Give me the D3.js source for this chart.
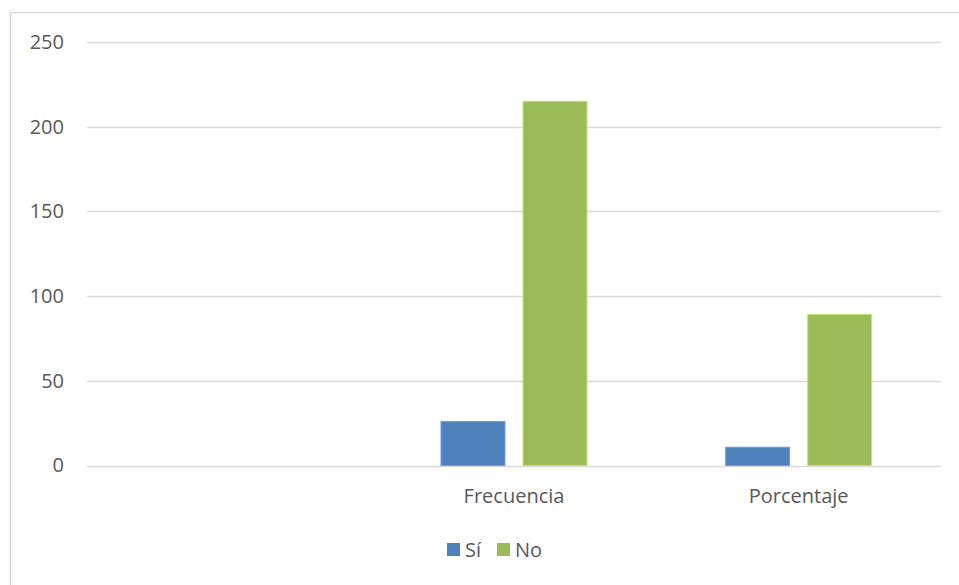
<!DOCTYPE html>
<html>
<head>
<meta charset="utf-8">
<script src="https://cdn.jsdelivr.net/npm/d3@7"></script>
<style>
  html, body { margin: 0; padding: 0; background: #fff; }
  svg { display: block; font-family: "Open Sans", "Noto Sans", sans-serif; }
</style>
</head>
<body>
<svg id="chart" width="959" height="585"></svg>
<script>
// Categories on the x axis (the first slot is left blank)
const categories = ["", "Frecuencia", "Porcentaje"];
const seriesNames = ["Sí", "No"];
const siValues = [null, 26, 10.8];
const noValues = [null, 215, 89.2];
const yTicks = [0, 50, 100, 150, 200, 250];
const colors = ["#4F81BD", "#9BBB59"];

const svg = d3.select("#chart");
const W = 959, H = 585;
const FONT = "20px";

// outer chart frame
svg.append("rect")
  .attr("x", 10.5).attr("y", 12.5)
  .attr("width", W).attr("height", H)
  .attr("fill", "#fff").attr("stroke", "#d9d9d9").attr("stroke-width", 1.5);

const plot = { left: 87, right: 941, top: 42, bottom: 465.5 };

const x = d3.scaleBand()
  .domain(categories.map((c, i) => i))
  .range([plot.left, plot.right])
  .paddingInner(0).paddingOuter(0);

const y = d3.scaleLinear().domain([0, 250]).range([plot.bottom, plot.top]);

// horizontal gridlines
svg.append("g").selectAll("line")
  .data(yTicks)
  .join("line")
  .attr("x1", plot.left).attr("x2", plot.right)
  .attr("y1", d => Math.round(y(d)) + 0.5).attr("y2", d => Math.round(y(d)) + 0.5)
  .attr("stroke", "#d9d9d9").attr("stroke-width", 1.5);

// y axis labels
const yAxis = d3.axisLeft(y).tickValues(yTicks).tickSize(0).tickPadding(0);
const ya = svg.append("g").attr("transform", `translate(${64},0)`).call(yAxis);
ya.select(".domain").remove();
ya.selectAll("text")
  .attr("fill", "#595959")
  .style("font-size", FONT)
  .style("font-family", "'Open Sans', sans-serif");

// grouped bars
const inner = d3.scaleBand()
  .domain(seriesNames)
  .range([0, x.bandwidth()])
  .paddingInner(0.22).paddingOuter(0.845);

const seriesData = [siValues, noValues];
seriesNames.forEach((name, si) => {
  svg.append("g").selectAll("rect")
    .data(seriesData[si].map((v, i) => ({ i, v })).filter(d => d.v != null))
    .join("rect")
    .attr("x", d => x(d.i) + inner(name))
    .attr("width", inner.bandwidth())
    .attr("y", d => y(d.v))
    .attr("height", d => y(0) - y(d.v))
    .attr("fill", colors[si])
    .attr("stroke", d3.color(colors[si]).brighter(0.6))
    .attr("stroke-width", 1);
});

// category labels
svg.append("g").selectAll("text")
  .data(categories.map((c, i) => ({ c, i })))
  .join("text")
  .attr("x", d => x(d.i) + x.bandwidth() / 2)
  .attr("y", 503)
  .attr("text-anchor", "middle")
  .attr("fill", "#595959")
  .style("font-size", FONT)
  .text(d => d.c);

// legend
const legend = svg.append("g");
const legendItems = [
  { name: "Sí", color: colors[0], x: 447 },
  { name: "No", color: colors[1], x: 497 }
];
legendItems.forEach(it => {
  legend.append("rect")
    .attr("x", it.x).attr("y", 543)
    .attr("width", 13).attr("height", 13)
    .attr("fill", it.color);
  legend.append("text")
    .attr("x", it.x + 18).attr("y", 557)
    .attr("fill", "#595959")
    .style("font-size", FONT)
    .text(it.name);
});
</script>
</body>
</html>
